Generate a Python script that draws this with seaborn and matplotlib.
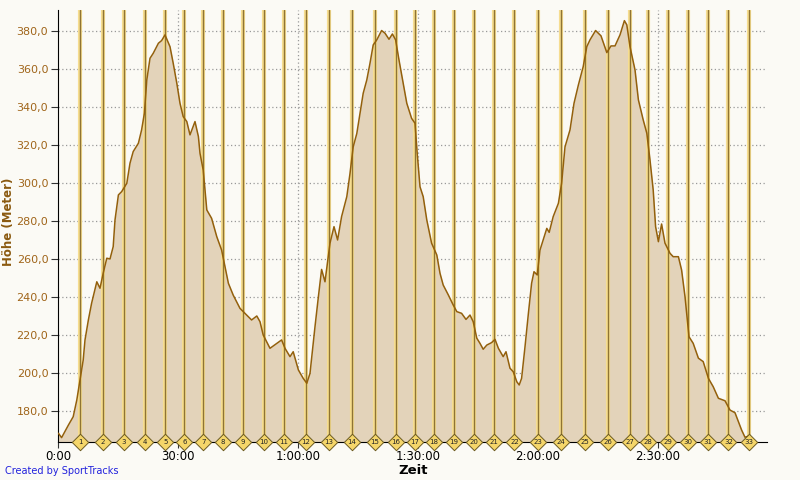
import matplotlib
matplotlib.use("Agg")
import matplotlib.pyplot as plt
import seaborn as sns
import pandas as pd

### Data: elevation profile (time in minutes, height in meters)
minutes = [0.1, 0.9, 2.6, 3.8, 4.7, 5.5, 6.3, 6.75, 7.6, 8.4, 9.7, 10.5, 11.3, 12.2, 13, 13.8,
           14.25, 15.1, 15.9, 17.2, 18, 18.8, 20.1, 20.9, 21.6, 22.2, 23, 23.8, 25.1, 25.9, 26.75,
           28, 28.8, 29.7, 30.5, 31.3, 32.2, 33, 34.25, 35.1, 35.5, 36.3, 37.2, 38.4, 39.7, 40.9,
           41.75, 42.6, 43.8, 45.5, 46.75, 48.4, 49.7, 50.5, 51.3, 53, 54.7, 55.9, 56.75, 58,
           58.8, 60.1, 61.3, 62.2, 63, 64.25, 65.1, 65.9, 66.75, 68, 69, 69.9, 70.9, 72.2, 73,
           73.8, 74.7, 75.5, 76.3, 77.2, 78, 78.8, 79.7, 80.9, 81.75, 82.75, 83.6, 84.4, 85.25,
           86.3, 87.2, 88.4, 89.25, 89.8, 90.5, 91.3, 92.2, 93.4, 94.7, 95.5, 96.3, 97.6, 98.8,
           99.7, 100.9, 102, 103, 103.8, 104.7, 105.5, 106.3, 107.2, 108.4, 109.25, 110.1, 111.3,
           112, 113, 113.8, 114.7, 115.3, 115.9, 116.75, 117.6, 118.4, 119, 119.8, 120.5, 121.3,
           122.2, 122.8, 123.8, 125.1, 125.9, 126.75, 128, 129, 130.1, 131.3, 132.2, 133, 134.4,
           135.75, 137.2, 138.25, 139.25, 140.5, 141.6, 142.2, 143, 144.25, 145.1, 146.3, 147.2,
           148, 148.8, 149.4, 150.1, 150.9, 151.75, 153, 153.8, 155.1, 155.9, 156.75, 157.75,
           158.8, 160.1, 161.3, 162.6, 163.8, 165.1, 166.75, 168, 169.25, 170.9, 171.75, 172.6]
hoehe = [168.3, 166, 172.6, 177, 185.8, 196.3, 206.8, 217.4, 228, 236.7, 248, 244.6, 252.5, 260.4,
         260, 266.5, 280.5, 293.7, 295.4, 299.8, 310.4, 316.5, 320.9, 327.9, 336.7, 354.2, 365.6,
         368.2, 373.5, 374.9, 377.9, 371.7, 363, 352.5, 341.9, 334.9, 332.3, 325.3, 332.3, 324.4,
         315.6, 306.8, 285.8, 281.4, 271.7, 264.7, 256, 247.2, 241, 234, 231.4, 227.9, 230, 227,
         220, 213, 215.6, 217.4, 213, 208.6, 211.2, 201.6, 197.2, 194.6, 199.8, 224.4, 240.2,
         254.5, 248, 268.3, 277, 270, 282.3, 292.8, 305, 319, 326, 336.7, 347.2, 354.2, 363, 372.6,
         375.3, 380.2, 378.8, 375.6, 378.4, 375.3, 364.7, 352.5, 341.9, 334, 331.4, 315.6, 298,
         292.8, 280.5, 268.3, 262.1, 252.5, 246.3, 241, 235.8, 232.3, 231.4, 228.2, 230.5, 227,
         218.3, 215.6, 212.5, 214.7, 216, 217.7, 213, 208.6, 211.2, 202.5, 200.7, 195.4, 193.7,
         197.2, 213.8, 231.4, 247.2, 253.3, 251.6, 264.7, 270, 276.1, 274, 282.3, 289.3, 299.8,
         319, 327.9, 341.9, 351.6, 361.2, 371.7, 375.3, 380.2, 377.4, 368.6, 372.1, 372.1, 377.9,
         385.4, 383.2, 371.7, 359.5, 343.7, 333.2, 326.2, 312.1, 296.3, 277, 269.1, 278.4, 268.3,
         263, 261.2, 261.2, 254.2, 240.2, 219.1, 215.6, 207.8, 206, 197.2, 192.8, 186.7, 185.4,
         180.5, 179.1, 170, 166.2, 166.8]

# lap markers (minutes)
laps = [5.5, 11.2, 16.4, 21.75, 26.8, 31.6, 36.3, 41.3, 46.3, 51.4, 56.4, 62, 67.7, 73.5,
        79.25, 84.4, 89.2, 93.9, 99, 104.1, 109.1, 114.1, 120.1, 125.8, 131.8, 137.5, 143,
        147.5, 152.6, 157.6, 162.6, 167.6, 172.7]
lap_labels = [str(i) for i in range(1, len(laps) + 1)]

x_ticks = [0, 30, 60, 90, 120, 150]
x_tick_labels = ["0:00", "30:00", "1:00:00", "1:30:00", "2:00:00", "2:30:00"]
y_ticks = [180, 200, 220, 240, 260, 280, 300, 320, 340, 360, 380]

df = pd.DataFrame({"Zeit": minutes, "Hoehe": hoehe})

bg = "#FBFAF5"
sns.set_style("ticks", {"axes.facecolor": bg, "figure.facecolor": bg})

fig = plt.figure(figsize=(8, 4.8), dpi=100)
ax = fig.add_axes([58 / 800, 38 / 480, 709 / 800, 432 / 480])

y_min, y_max = 163.7, 391
ax.set_xlim(0, 177.25)
ax.set_ylim(y_min, y_max)

# grid
for y in y_ticks:
    ax.axhline(y, color="#999999", lw=0.9, ls=(0, (1, 2)), zorder=1)
for x in x_ticks[1:]:
    ax.axvline(x, color="#999999", lw=0.9, ls=(0, (1, 2)), zorder=1)

# profile
ax.fill_between(df["Zeit"], df["Hoehe"], y_min, color="#E3D3BA", zorder=2, lw=0)
sns.lineplot(data=df, x="Zeit", y="Hoehe", ax=ax, color="#93600C", lw=1.1, zorder=6)

# lap lines
for x in laps:
    ax.axvline(x, color="#F6DD90", lw=3.0, zorder=4)
    ax.axvline(x, color="#8F7434", lw=1.0, zorder=5)

# lap markers on the axis
ax.scatter(laps, [y_min] * len(laps), marker="D", s=70, color="#F5D66A",
           edgecolor="#6B5A20", linewidth=0.7, zorder=10, clip_on=False)
for x, lab in zip(laps, lap_labels):
    ax.text(x, y_min, lab, fontsize=5, ha="center", va="center", color="#222222",
            zorder=11, clip_on=False)

ax.set_xticks(x_ticks)
ax.set_xticklabels(x_tick_labels, fontsize=8.5, color="black")
ax.set_yticks(y_ticks)
ax.set_yticklabels([f"{v:.1f}".replace(".", ",") for v in y_ticks], fontsize=8, color="#A0651A")
ax.tick_params(axis="y", length=5, width=0.8, pad=2, color="#333333")
ax.tick_params(axis="x", length=4, width=0.8, pad=2, color="#333333")

ax.spines["top"].set_visible(False)
ax.spines["right"].set_visible(False)
ax.spines["left"].set_color("black")
ax.spines["bottom"].set_color("black")

ax.set_xlabel("")
ax.set_ylabel("")
fig.text(9 / 800, 1 - 222 / 480, "Höhe (Meter)", rotation=90, ha="center", va="center",
         fontsize=8.5, fontweight="bold", color="#8B5A10")
fig.text(413 / 800, 1 - 471 / 480, "Zeit", ha="center", va="center",
         fontsize=9.5, fontweight="bold", color="black")
fig.text(5 / 800, 1 - 471 / 480, "Created by SportTracks", ha="left", va="center",
         fontsize=7, color="#2222DD")

fig.savefig("out.png", dpi=100, facecolor=bg)
